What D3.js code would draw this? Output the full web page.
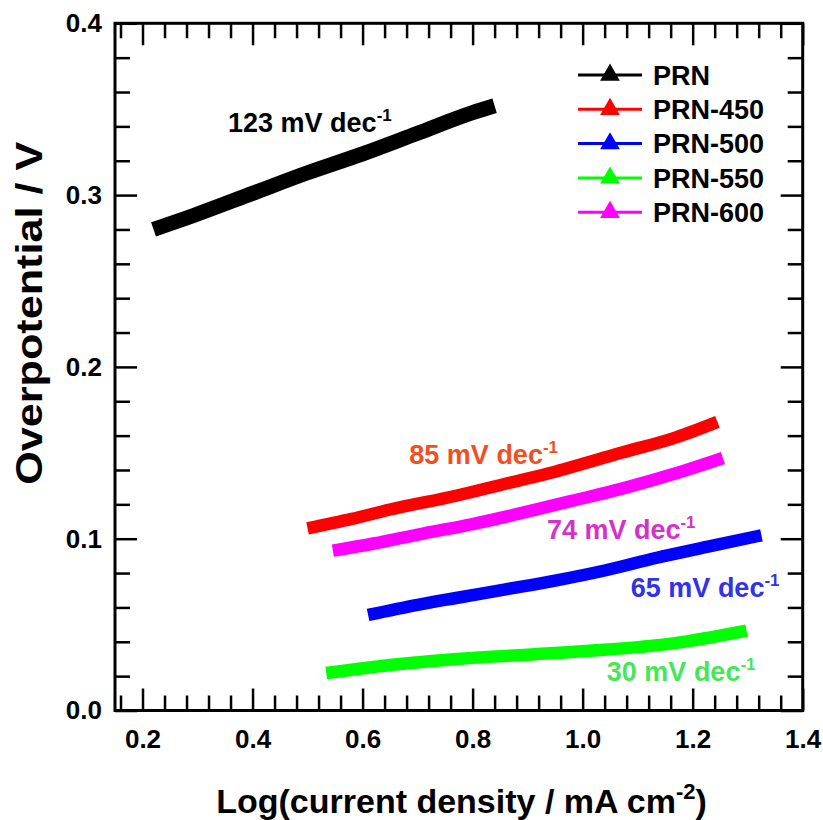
<!DOCTYPE html>
<html>
<head>
<meta charset="utf-8">
<script src="https://cdn.jsdelivr.net/npm/d3@7"></script>
<style>
  html, body { margin: 0; padding: 0; background: #fff; }
  svg text { font-family: "Liberation Sans", Arial, sans-serif; font-weight: bold; }
</style>
</head>
<body>
<svg id="chart" width="823" height="820"></svg>
<script>
// ---- data ----
const seriesNames = ["PRN", "PRN-450", "PRN-500", "PRN-550", "PRN-600"];
const seriesColors = ["#000000", "#ff0000", "#0000ff", "#00ff00", "#ff00ff"];

const prnX    = [0.22, 0.30, 0.40, 0.50, 0.60, 0.70, 0.80, 0.84];
const prnY    = [0.280, 0.289, 0.301, 0.313, 0.324, 0.336, 0.348, 0.352];

const prn450X = [0.50, 0.58, 0.65, 0.77, 0.86, 0.95, 1.07, 1.17, 1.245];
const prn450Y = [0.106, 0.1115, 0.117, 0.125, 0.132, 0.139, 0.150, 0.159, 0.168];

const prn500X = [0.61, 0.70, 0.77, 0.86, 0.95, 1.04, 1.135, 1.23, 1.325];
const prn500Y = [0.0556, 0.0615, 0.0655, 0.0705, 0.0756, 0.0815, 0.0889, 0.0955, 0.102];

const prn550X = [0.534, 0.65, 0.771, 0.90, 1.014, 1.165, 1.298];
const prn550Y = [0.0218, 0.0265, 0.030, 0.0325, 0.0348, 0.0391, 0.0465];

const prn600X = [0.546, 0.62, 0.71, 0.80, 0.89, 0.98, 1.07, 1.165, 1.255];
const prn600Y = [0.093, 0.0972, 0.103, 0.1085, 0.115, 0.122, 0.129, 0.1376, 0.147];

const seriesX = [prnX, prn450X, prn500X, prn550X, prn600X];
const seriesY = [prnY, prn450Y, prn500Y, prn550Y, prn600Y];

const slopeLabels = ["123 mV dec", "85 mV dec", "65 mV dec", "30 mV dec", "74 mV dec"];
const slopeSup = "-1";
const slopeColors = ["#000000", "#f0501e", "#3232e6", "#46e65a", "#d232c8"];
// anchor (start, baseline) of the slope labels, in data units
const slopeLabelX = [0.3555, 0.685, 1.0876, 1.044, 0.935];
const slopeLabelY = [0.3369, 0.1436, 0.0663, 0.0174, 0.0997];

const xTicks = [0.2, 0.4, 0.6, 0.8, 1.0, 1.2, 1.4];
const yTicks = [0.0, 0.1, 0.2, 0.3, 0.4];
const xTitle = "Log(current density / mA cm";
const xTitleSup = "-2";
const yTitle = "Overpotential / V";

// ---- layout ----
const svg = d3.select("#chart");
const L = 115, R = 802.7, T = 23.3, B = 710.5;

const x = d3.scaleLinear().domain([0.15, 1.4]).range([L, R]);
const y = d3.scaleLinear().domain([0, 0.4]).range([B, T]);

const xMinor = d3.range(0.16, 1.4, 0.04).filter(v => Math.abs(v / 0.2 - Math.round(v / 0.2)) > 1e-6);
const yMinor = d3.range(0.02, 0.4, 0.02).filter(v => Math.abs(v / 0.1 - Math.round(v / 0.1)) > 1e-6);

function styleAxis(g) {
  g.select(".domain").remove();
  g.selectAll("line").attr("stroke", "#000").attr("stroke-width", 2.5);
  g.selectAll("text").attr("font-size", 26).attr("fill", "#000")
    .style("font-family", "'Liberation Sans', Arial, sans-serif").style("font-weight", "bold");
}

// bottom
svg.append("g").attr("transform", `translate(0,${B})`)
  .call(d3.axisBottom(x).tickValues(xTicks).tickFormat(d3.format(".1f")).tickSizeInner(-22).tickSizeOuter(0).tickPadding(19))
  .call(styleAxis);
svg.append("g").attr("transform", `translate(0,${B})`)
  .call(d3.axisBottom(x).tickValues(xMinor).tickFormat("").tickSizeInner(-15).tickSizeOuter(0))
  .call(styleAxis);
// top
svg.append("g").attr("transform", `translate(0,${T})`)
  .call(d3.axisTop(x).tickValues(xTicks).tickFormat("").tickSizeInner(-22).tickSizeOuter(0))
  .call(styleAxis);
svg.append("g").attr("transform", `translate(0,${T})`)
  .call(d3.axisTop(x).tickValues(xMinor).tickFormat("").tickSizeInner(-15).tickSizeOuter(0))
  .call(styleAxis);
// left
svg.append("g").attr("transform", `translate(${L},0)`)
  .call(d3.axisLeft(y).tickValues(yTicks).tickFormat(d3.format(".1f")).tickSizeInner(-22).tickSizeOuter(0).tickPadding(13))
  .call(styleAxis);
svg.append("g").attr("transform", `translate(${L},0)`)
  .call(d3.axisLeft(y).tickValues(yMinor).tickFormat("").tickSizeInner(-15).tickSizeOuter(0))
  .call(styleAxis);
// right
svg.append("g").attr("transform", `translate(${R},0)`)
  .call(d3.axisRight(y).tickValues(yTicks).tickFormat("").tickSizeInner(-22).tickSizeOuter(0))
  .call(styleAxis);
svg.append("g").attr("transform", `translate(${R},0)`)
  .call(d3.axisRight(y).tickValues(yMinor).tickFormat("").tickSizeInner(-15).tickSizeOuter(0))
  .call(styleAxis);

// frame
svg.append("rect").attr("x", L).attr("y", T).attr("width", R - L).attr("height", B - T)
  .attr("fill", "none").attr("stroke", "#000").attr("stroke-width", 3);

// ---- series (dense triangle markers rendered as a thick band) ----
const line = d3.line().x(d => x(d[0])).y(d => y(d[1])).curve(d3.curveMonotoneX);
seriesNames.forEach((name, i) => {
  const pts = seriesX[i].map((v, k) => [v, seriesY[i][k]]);
  svg.append("path").datum(pts)
    .attr("d", line)
    .attr("fill", "none")
    .attr("stroke", seriesColors[i])
    .attr("stroke-width", i === 0 ? 15 : 12.5)
    .attr("stroke-linecap", "butt")
    .attr("stroke-linejoin", "round");
});

// ---- slope labels ----
slopeLabels.forEach((s, i) => {
  const t = svg.append("text")
    .attr("x", x(slopeLabelX[i])).attr("y", y(slopeLabelY[i]))
    .attr("fill", slopeColors[i]).attr("font-size", 27);
  t.append("tspan").text(s);
  t.append("tspan").text(slopeSup).attr("font-size", 17).attr("dy", -11);
});

// ---- legend ----
const legX = 578, legY0 = 75, legDy = 34.3;
const tri = d3.symbol().type(d3.symbolTriangle).size(170);
seriesNames.forEach((name, i) => {
  const g = svg.append("g").attr("transform", `translate(0,${legY0 + i * legDy})`);
  g.append("line").attr("x1", legX).attr("x2", legX + 64).attr("y1", 0).attr("y2", 0)
    .attr("stroke", seriesColors[i]).attr("stroke-width", 3);
  g.append("path").attr("d", tri).attr("transform", `translate(${legX + 32},0)`)
    .attr("fill", seriesColors[i]);
  g.append("text").attr("x", 653).attr("y", 0).attr("dy", "0.36em")
    .attr("font-size", 27).attr("fill", "#000").text(name);
});

// ---- axis titles ----
const xt = svg.append("text").attr("x", 461.5).attr("y", 813)
  .attr("text-anchor", "middle").attr("font-size", 34).attr("fill", "#000");
xt.append("tspan").text(xTitle);
xt.append("tspan").text(xTitleSup).attr("font-size", 22).attr("dy", -14);
xt.append("tspan").text(")").attr("dy", 14);

svg.append("text").attr("transform", `translate(41.5,313.3) rotate(-90)`)
  .attr("text-anchor", "middle").attr("font-size", 37)
  .attr("textLength", 343).attr("lengthAdjust", "spacingAndGlyphs")
  .attr("fill", "#000").text(yTitle);
</script>
</body>
</html>
